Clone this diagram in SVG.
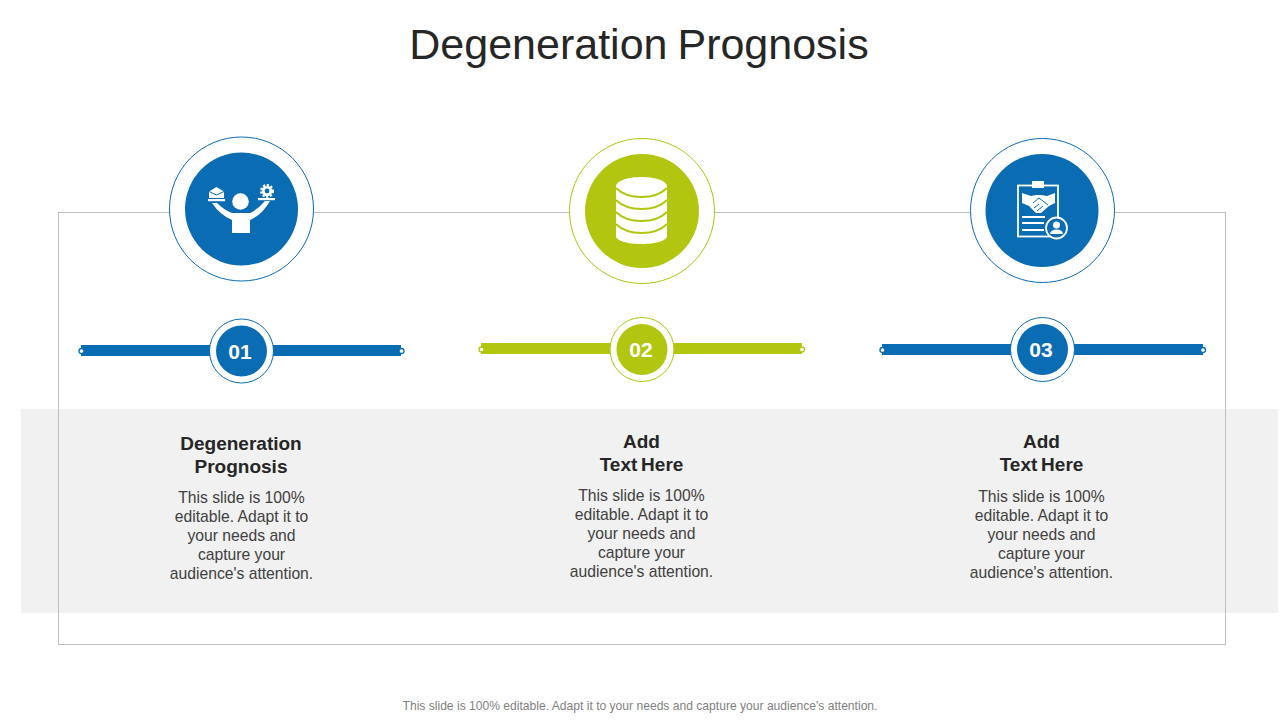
<svg xmlns="http://www.w3.org/2000/svg" width="1280" height="720" viewBox="0 0 1280 720">
<style>
text{font-family:"Liberation Sans",Arial,sans-serif;text-anchor:middle}
.title{font-size:43px;fill:#262626;word-spacing:-2px}
.head{font-size:19px;font-weight:700;fill:#262626;word-spacing:-1.500px}
.body{font-size:15.700px;fill:#404040}
.num{font-size:21px;font-weight:700;fill:#fff}
.foot{font-size:12.100px;fill:#7f7f7f}
.b{fill:#0a6cb2}.g{fill:#b2c60f}
.rb{fill:#fff;stroke:#0a6cb2;stroke-width:1}.rg{fill:#fff;stroke:#b2c60f;stroke-width:1}
.w{fill:#fff}.ws{fill:none;stroke:#fff}
.dot{fill:#fff;stroke-width:1.300}
</style>
<rect width="1280" height="720" fill="#fff"/>
<rect id="band" x="21" y="409" width="1257" height="204" fill="#f1f1f1"/>
<g id="connectors">
<rect x="58.500" y="212.500" width="1167" height="432" fill="none" stroke="#bfbfbf" stroke-width="1"/>
</g>
<text id="title" class="title" x="639" y="58.500">Degeneration Prognosis</text>

<g id="node1">
<circle class="rb" cx="241.500" cy="209" r="72"/>
<circle class="b" cx="241.500" cy="209" r="56.500"/>
<g id="icon1">
<circle class="w" cx="240.500" cy="201.500" r="8.300"/>
<path class="w" d="M232 233V220Q220 215 212 203H217Q224 210 232 213H250Q257 210 265 201H270Q262 215 250 220V233Z"/>
<rect class="w" x="208" y="199" width="17" height="2.200"/>
<rect class="w" x="258" y="198" width="17" height="2.200"/>
<path class="w" d="M209 191.500L216.500 187 224 191.500V198H209Z"/>
<path fill="none" stroke="#0a6cb2" stroke-width="1" d="M209 191.500L216.500 195 224 191.500"/>
<circle class="w" cx="267" cy="191" r="5.300"/>
<circle class="ws" stroke-width="2" stroke-dasharray="2.200 1.700" cx="267" cy="191" r="6"/>
<circle class="b" cx="267" cy="191" r="2.400"/>
</g>
</g>
<g id="node2">
<circle class="rg" cx="642" cy="211" r="72.500"/>
<circle class="g" cx="642" cy="211" r="57"/>
<g id="icon2">
<path class="w" d="M616 186.500C616 180 630 177 641.500 177S667 180 667 186.500V236C667 241 655 244 641.500 244S616 241 616 236Z"/>
<path fill="none" stroke="#b2c60f" stroke-width="1.800" d="M616 188C622 194 632 197 641.500 197S661 194 667 188M616 200C622 206 632 209 641.500 209S661 206 667 200M616 212C622 218 632 221 641.500 221S661 218 667 212M616 224C622 230 632 233 641.500 233S661 230 667 224"/>
</g>
</g>
<g id="node3">
<circle class="rb" cx="1042.500" cy="210.500" r="72"/>
<circle class="b" cx="1042" cy="210.500" r="56.500"/>
<g id="icon3">
<rect class="ws" stroke-width="1.800" x="1018" y="185.500" width="40" height="51"/>
<rect class="w" x="1032" y="181" width="12" height="7"/>
<path class="w" d="M1022 193L1031 196 1036 195 1041 195 1047 196 1055 193 1055 203 1049 206 1041 213 1036 213 1029 206 1022 203Z"/>
<path fill="none" stroke="#0a6cb2" stroke-width="1" d="M1033 203L1039 198 1048 205M1037 211L1043 206M1034 208L1039 204"/>
<path class="ws" stroke-width="1.800" d="M1022 217H1045M1022 223H1044M1022 230H1044"/>
<circle cx="1056.500" cy="228" r="10.500" fill="#0a6cb2" stroke="#fff" stroke-width="1.800"/>
<circle class="w" cx="1056.500" cy="225" r="3.500"/>
<path class="w" d="M1050 234Q1050.500 229.500 1056.500 229.500 1062.500 229.500 1063 234Z"/>
</g>
</g>

<g id="bar1">
<rect class="b" x="81" y="345" width="320" height="11"/>
<circle class="dot" cx="81.500" cy="351" r="2.500" stroke="#0a6cb2"/>
<circle class="dot" cx="401.500" cy="351" r="2.500" stroke="#0a6cb2"/>
<circle class="rb" cx="241.500" cy="351" r="32"/>
<circle class="b" cx="241.500" cy="351" r="25.500"/>
<text class="num" x="240" y="358.500">01</text>
</g>
<g id="bar2">
<rect class="g" x="481" y="343" width="321" height="11"/>
<circle class="dot" cx="481.500" cy="349.500" r="2.500" stroke="#b2c60f"/>
<circle class="dot" cx="802" cy="349.500" r="2.500" stroke="#b2c60f"/>
<circle class="rg" cx="642" cy="349.500" r="32"/>
<circle class="g" cx="642" cy="349.500" r="25.500"/>
<text class="num" x="641" y="356.500">02</text>
</g>
<g id="bar3">
<rect class="b" x="882" y="344" width="321" height="11"/>
<circle class="dot" cx="882.500" cy="350" r="2.500" stroke="#0a6cb2"/>
<circle class="dot" cx="1203" cy="350" r="2.500" stroke="#0a6cb2"/>
<circle class="rb" cx="1042.500" cy="349.500" r="32"/>
<circle class="b" cx="1042.500" cy="349.500" r="25.500"/>
<text class="num" x="1041" y="356.500">03</text>
</g>

<g id="text1">
<text class="head" x="241" y="450">Degeneration</text>
<text class="head" x="241" y="473">Prognosis</text>
<text class="body" x="241.500" y="503">This slide is 100%</text>
<text class="body" x="241.500" y="522">editable. Adapt it to</text>
<text class="body" x="241.500" y="541">your needs and</text>
<text class="body" x="241.500" y="560">capture your</text>
<text class="body" x="241.500" y="579">audience's attention.</text>
</g>
<g id="text2">
<text class="head" x="641.500" y="448">Add</text>
<text class="head" x="641.500" y="471">Text Here</text>
<text class="body" x="641.500" y="501">This slide is 100%</text>
<text class="body" x="641.500" y="520">editable. Adapt it to</text>
<text class="body" x="641.500" y="539">your needs and</text>
<text class="body" x="641.500" y="558">capture your</text>
<text class="body" x="641.500" y="577">audience's attention.</text>
</g>
<g id="text3">
<text class="head" x="1041.500" y="448">Add</text>
<text class="head" x="1041.500" y="471">Text Here</text>
<text class="body" x="1041.500" y="502">This slide is 100%</text>
<text class="body" x="1041.500" y="521">editable. Adapt it to</text>
<text class="body" x="1041.500" y="540">your needs and</text>
<text class="body" x="1041.500" y="559">capture your</text>
<text class="body" x="1041.500" y="578">audience's attention.</text>
</g>
<text id="footer" class="foot" x="640" y="709.500">This slide is 100% editable. Adapt it to your needs and capture your audience's attention.</text>
</svg>
